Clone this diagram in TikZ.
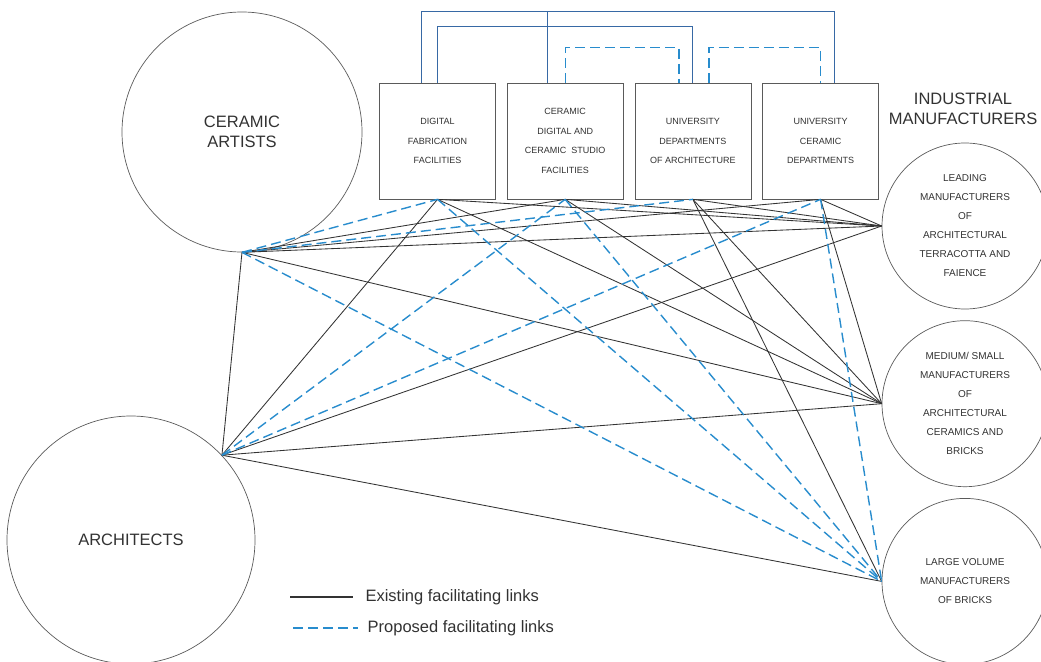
\documentclass[tikz,border=0pt]{standalone}
\usepackage{fontspec}
\setmainfont{Liberation Sans}
\usetikzlibrary{positioning}
\definecolor{linkblue}{RGB}{40,140,205}
\definecolor{frameblue}{RGB}{55,105,165}
\definecolor{edgegray}{RGB}{90,90,90}
\definecolor{inkgray}{RGB}{50,50,50}

\begin{document}
\begin{tikzpicture}[x=1pt,y=-1pt,text=inkgray,
  group/.style={circle,draw=edgegray,line width=0.7pt,inner sep=0pt,align=center},
  big/.style={font=\fontsize{16.5}{20}\selectfont},
  small/.style={font=\fontsize{10}{19}\selectfont},
  facility/.style={draw=edgegray,line width=0.7pt,fill=white,minimum width=116pt,
    minimum height=116pt,inner sep=0pt,align=center,font=\fontsize{9}{19.5}\selectfont},
  existing/.style={draw=black!80,line width=0.85pt},
  proposed/.style={draw=linkblue,line width=1.4pt,dash pattern=on 10pt off 5pt},
  frame/.style={draw=frameblue,line width=0.9pt}]
\useasboundingbox (0,0) rectangle (1041,661);

\node[group,big,minimum size=240pt] (ca) at (242,132) {CERAMIC\\ARTISTS};
\node[group,big,minimum size=248pt] (ar) at (131,540) {ARCHITECTS};

\node[facility] (b1) at (437.5,141) {DIGITAL\\FABRICATION\\FACILITIES};
\node[facility,right=11pt of b1] (b2) {CERAMIC\\DIGITAL AND\\CERAMIC\ \ STUDIO\\FACILITIES};
\node[facility,right=11pt of b2] (b3) {UNIVERSITY\\DEPARTMENTS\\OF ARCHITECTURE};
\node[facility,right=11pt of b3] (b4) {UNIVERSITY\\CERAMIC\\DEPARTMENTS};

\node[group,small,minimum size=166pt] (lm) at (965,226)
  {LEADING\\MANUFACTURERS\\OF\\ARCHITECTURAL\\TERRACOTTA AND\\FAIENCE};
\node[group,small,minimum size=166pt,below=11pt of lm] (ms)
  {MEDIUM/ SMALL\\MANUFACTURERS\\OF\\ARCHITECTURAL\\CERAMICS AND\\BRICKS};
\node[group,small,minimum size=166pt,below=11pt of ms] (lv)
  {LARGE VOLUME\\MANUFACTURERS\\OF BRICKS};
\node[big,align=center] (im) at (963,109) {INDUSTRIAL\\MANUFACTURERS};

% links between the facilities
\draw[frame] ([xshift=-16pt]b1.north) -- ++(0,-71) -| ([xshift=14pt]b4.north);
\draw[frame] (b1.north) -- ++(0,-56) -| (b3.north);
\draw[frame] ([xshift=-18pt]b2.north) -- ++(0,-71);
\draw[proposed] (b2.north) -- ++(0,-35) -| ([xshift=-14pt]b3.north);
\draw[proposed] ([xshift=16pt]b3.north) -- ++(0,-35) -| (b4.north);

% existing links
\foreach \a/\b in {ca.south/ar.43, ca.south/b2.south, ca.south/b4.south,
    ca.south/lm.west, ca.south/ms.west, ar.43/b1.south, ar.43/lm.west,
    ar.43/ms.west, ar.43/lv.west, b1.south/lm.west, b1.south/ms.west,
    b2.south/lm.west, b2.south/ms.west, b3.south/lm.west, b3.south/ms.west,
    b3.south/lv.west, b4.south/lm.west, b4.south/ms.west}
  \draw[existing] (\a) -- (\b);

% proposed links
\foreach \a/\b in {ca.south/b1.south, ca.south/b3.south, ca.south/lv.west,
    ar.43/b2.south, ar.43/b4.south, b1.south/lv.west, b2.south/lv.west,
    b4.south/lv.west}
  \draw[proposed] (\a) -- (\b);

% key
\coordinate (k1) at (290,597);
\coordinate (k2) at (353,597);
\coordinate (k3) at (293,628);
\coordinate (k4) at (358,628);
\draw[existing,line width=1.1pt] (k1) -- (k2) node[right=12pt,big,inner sep=0pt] (kt1) {Existing facilitating links};
\draw[proposed] (k3) -- (k4) node[right=9pt,big,inner sep=0pt] (kt2) {Proposed facilitating links};
\end{tikzpicture}
\end{document}
